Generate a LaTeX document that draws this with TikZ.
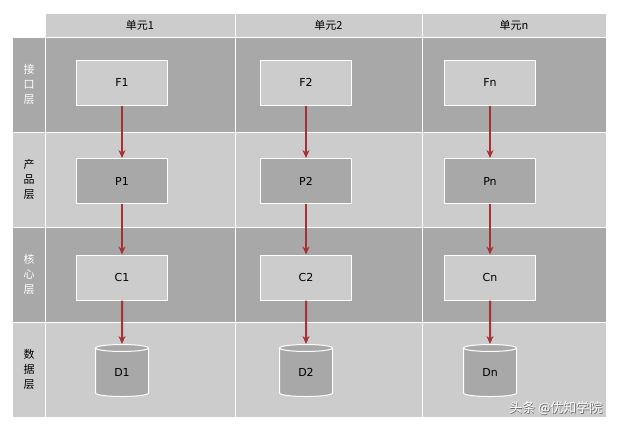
\documentclass[tikz,border=0pt]{standalone}
\usepackage{fontspec}
\setmainfont{DejaVu Sans}
\newfontfamily\cjk{Noto Sans CJK SC}
\usetikzlibrary{shapes.geometric,arrows.meta}
\definecolor{lg}{HTML}{CCCCCC}
\definecolor{dg}{HTML}{A8A8A8}
\definecolor{ar}{HTML}{A83232}
\begin{document}
\begin{tikzpicture}[x=1pt,y=-1pt,
  cell/.style={draw=white,line width=1pt},
  box/.style={draw=white,line width=1pt,minimum width=91pt,minimum height=45pt,font=\fontsize{11}{12}\selectfont,inner sep=0pt},
  db/.style={cylinder,shape border rotate=90,aspect=0.45,draw=white,line width=1pt,fill=dg,minimum width=53pt,minimum height=52pt,font=\fontsize{11}{12}\selectfont,inner sep=0pt},
  lbl/.style={align=center,font=\cjk\fontsize{11}{15}\selectfont},
  flow/.style={draw=ar,line width=2pt,-{Stealth[length=8pt,width=7pt,fill=ar]}}]
\useasboundingbox (0,0) rectangle (618,429);
\fill[white] (0,0) rectangle (618,429);
% header
\foreach \a/\b/\t in {45/235/单元1,235/422/单元2,422/606/单元n}{
  \filldraw[cell,fill=lg] (\a,13) rectangle (\b,37);
  \node[font=\cjk\fontsize{11}{12}\selectfont] at ({(\a+\b)/2},25) {\t};
}
% rows
\foreach \y/\c/\tc/\t in {37/dg/white/接\\口\\层,132/lg/black/产\\品\\层,227/dg/white/核\\心\\层,322/lg/black/数\\据\\层}{
  \filldraw[cell,fill=\c] (12,\y) rectangle (45,\y+95);
  \filldraw[cell,fill=\c] (45,\y) rectangle (235,\y+95);
  \filldraw[cell,fill=\c] (235,\y) rectangle (422,\y+95);
  \filldraw[cell,fill=\c] (422,\y) rectangle (606,\y+95);
  \node[lbl,text=\tc] at (29,\y+47.5) {\t};
}
% boxes
\foreach \x/\n/\s in {122/a/1,306/b/2,490/c/n}{
  \node[box,fill=lg] (F\n) at (\x,82.5) {F\s};
  \node[box,fill=dg] (P\n) at (\x,181) {P\s};
  \node[box,fill=lg] (C\n) at (\x,277.5) {C\s};
  \node[db] (D\n) at (\x,372.5) {D\s};
}
\foreach \n in {a,b,c}{
  \draw[flow] (F\n.south) -- (P\n.north);
  \draw[flow] (P\n.south) -- (C\n.north);
  \draw[flow] (C\n.south) -- (D\n.north);
}
\node[anchor=east,text=black!60,font=\cjk\fontsize{13}{15}\selectfont] at (606.6,408.6) {头条 @优知学院};
\node[anchor=east,text=white,font=\cjk\fontsize{13}{15}\selectfont] (wm) at (606,408) {头条 @优知学院};
\end{tikzpicture}
\end{document}
